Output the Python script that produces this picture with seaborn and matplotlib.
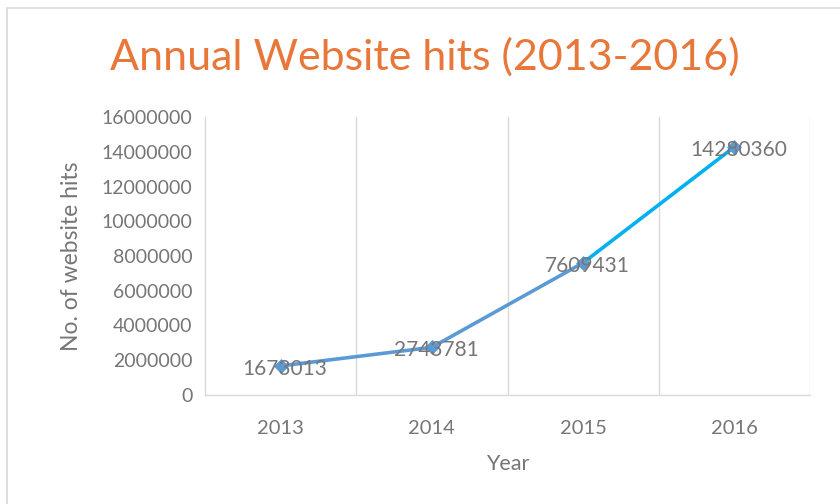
import matplotlib
matplotlib.use("Agg")
import matplotlib.pyplot as plt
import seaborn as sns
import pandas as pd
from matplotlib.patches import Rectangle
from matplotlib.ticker import FixedLocator

years = ["2013", "2014", "2015", "2016"]
hits = [1673013, 2743781, 7609431, 14280360]
y_ticks = [0, 2000000, 4000000, 6000000, 8000000, 10000000, 12000000, 14000000, 16000000]

sns.set_theme(style="white")
plt.rcParams['font.family'] = ['Lato', 'DejaVu Sans']

df = pd.DataFrame({"pos": range(len(years)), "year": years, "hits": hits})

fig = plt.figure(figsize=(8.4, 5.04), dpi=100)
ax = fig.add_axes([205/840, 1-395/504, (810-205)/840, (395-117)/504])

main_col = "#5B9BD5"
last_col = "#00B0F0"
sns.lineplot(data=df.iloc[:3], x="pos", y="hits", ax=ax, color=main_col, linewidth=2.6,
             solid_capstyle="round")
sns.lineplot(data=df.iloc[2:], x="pos", y="hits", ax=ax, color=last_col, linewidth=2.6,
             solid_capstyle="round")
sns.scatterplot(data=df, x="pos", y="hits", ax=ax, marker="D", s=50, color=main_col,
                edgecolor=main_col, zorder=5)

txt_col = "#767676"
for i, v in enumerate(hits):
    ax.annotate(f"{v}", (i, v), xytext=(3, -2), textcoords="offset points",
                ha="center", va="center", fontsize=15, color=txt_col, zorder=6)

ax.set_xlim(-0.5, len(years) - 0.5)
ax.set_ylim(0, 16000000)
ax.set_xticks(range(len(years)))
ax.set_xticklabels(years, fontsize=14.5, color=txt_col)
ax.set_yticks(y_ticks)
ax.set_yticklabels([str(t) for t in y_ticks], fontsize=14, color=txt_col)
ax.xaxis.set_minor_locator(FixedLocator([0.5, 1.5, 2.5, 3.5]))
ax.grid(True, which="minor", axis="x", color="#D9D9D9", linewidth=1)
ax.grid(False, which="major")
ax.tick_params(axis="both", which="both", length=0)
ax.tick_params(axis="x", pad=18)
ax.tick_params(axis="y", pad=9)

for s in ["top", "right"]:
    ax.spines[s].set_visible(False)
ax.spines["left"].set_color("#D9D9D9")
ax.spines["bottom"].set_color("#D9D9D9")
ax.spines["left"].set_linewidth(1)
ax.spines["bottom"].set_linewidth(1)

ax.set_xlabel("Year", fontsize=15.5, color=txt_col, labelpad=12)
ax.set_ylabel("No. of website hits", fontsize=16.5, color=txt_col, labelpad=14)

fig.text(425/840, 1-57/504, "Annual Website hits (2013-2016)", ha="center", va="center",
         fontsize=31, color="#E8773A")

fig.patches.append(Rectangle((7/840, -0.1), 1.2, 1-8/504+0.1, transform=fig.transFigure,
                             fill=False, edgecolor="#D9D9D9", linewidth=1.2))

fig.savefig("out.png", dpi=100, facecolor="white")
